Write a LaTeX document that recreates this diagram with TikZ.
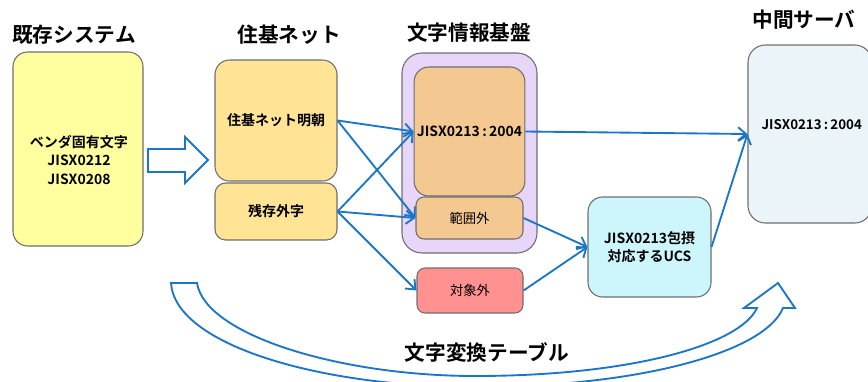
\documentclass[tikz,border=0pt]{standalone}
\usepackage{fontspec}
\setmainfont{Noto Sans CJK JP}[BoldFont=* Bold]
\usepackage{tikz}
\usetikzlibrary{arrows.meta,positioning}
\definecolor{flowblue}{RGB}{28,118,200}
\definecolor{boxgray}{RGB}{110,110,110}
\definecolor{oldyellow}{RGB}{255,255,160}
\definecolor{jukiyellow}{RGB}{255,228,150}
\definecolor{basepurple}{RGB}{232,214,250}
\definecolor{basetan}{RGB}{244,200,145}
\definecolor{outred}{RGB}{255,145,145}
\definecolor{ucscyan}{RGB}{204,245,252}
\definecolor{serverblue}{RGB}{235,244,248}

\begin{document}
\begin{tikzpicture}[
  x=0.75pt,y=-0.75pt,
  box/.style={draw=boxgray,line width=0.8pt,rounded corners=11pt,align=center,inner sep=2pt,
    font=\bfseries\fontsize{10.5}{14}\selectfont},
  smallbox/.style={box,rounded corners=6pt,font=\fontsize{10}{12}\selectfont},
  title/.style={font=\bfseries\fontsize{15.5}{18}\selectfont},
  flow/.style={-{Straight Barb[length=6pt,width=10pt]},draw=flowblue,line width=1.4pt},
  hollow/.style={draw=flowblue,line width=1.4pt,fill=white,line join=miter}
]
\useasboundingbox (0,0) rectangle (868,382);
\clip (0,0) rectangle (868,382);

% column titles
\node[title] (t1) at (74,35) {既存システム};
\node[title] (t2) at (289,35) {住基ネット};
\node[title] (t3) at (469,33) {文字情報基盤};
\node[title] (t4) at (804,20) {中間サーバ};

% existing system
\node[box,fill=oldyellow,minimum width=97.5pt,minimum height=145.5pt] (kizon) at (78,149) {};
\node[font=\bfseries\fontsize{10.5}{14}\selectfont,align=center] (kizontxt) at (79,160)
  {ベンダ固有文字\\JISX0212\\JISX0208};

% juki net
\node[box,fill=jukiyellow,minimum width=91.5pt,minimum height=90.75pt] (meicho) at (276,120.5) {住基ネット明朝};
\node[box,fill=jukiyellow,rounded corners=8pt,minimum width=91.5pt,minimum height=42.75pt] (zanzon) at (276,211.5) {残存外字};

% character information base
\node[box,fill=basepurple,rounded corners=15pt,minimum width=101.25pt,minimum height=150pt] (base) at (469.5,153) {};
\node[box,fill=basetan,minimum width=80.25pt,minimum height=96.75pt] (jis) at (469.5,131.5) {JISX0213\,:\,2004};
\node[smallbox,fill=basetan,minimum width=80.25pt,minimum height=31.5pt] (hani) at (469.5,218) {範囲外};
\node[smallbox,fill=outred,minimum width=79.5pt,minimum height=33.75pt] (taisho) at (470,290.5) {対象外};

% UCS
\node[box,fill=ucscyan,minimum width=92.25pt,minimum height=75pt] (ucs) at (649.5,247) {JISX0213包摂\\対応するUCS};

% intermediate server
\node[box,fill=serverblue,rounded corners=13pt,minimum width=93pt,minimum height=133.5pt] (server) at (810,134) {};
\node[anchor=west,inner sep=1pt,font=\bfseries\fontsize{10}{12}\selectfont] (servertxt) at (760,125) {JISX0213\,:\,2004};

% hollow arrow
\draw[hollow] (148,149) -- (185,149) -- (185,137) -- (208,160) -- (185,183) -- (185,172) -- (148,172) -- cycle;

% flows
\draw[flow] (meicho.east) -- (jis.west);
\draw[flow] (meicho.east) -- (hani.west);
\draw[flow] (zanzon.east) -- (jis.west);
\draw[flow] (zanzon.east) -- (hani.west);
\draw[flow] (zanzon.east) -- (taisho.west);
\draw[flow] (jis.east) -- (server.west);
\draw[flow] (hani.east) -- (ucs.west);
\draw[flow] (taisho.east) -- (ucs.west);
\draw[flow] (ucs.east) -- (server.west);

% curved conversion arrow
\draw[hollow] (171,283) -- (197,283)
  .. controls (205,335) and (340,376) .. (475,376)
  .. controls (630,376) and (740,345) .. (757,308)
  -- (744,308) -- (778,283) -- (795,308) -- (783,308)
  .. controls (765,352) and (640,387) .. (475,387)
  .. controls (320,387) and (175,345) .. (171,283) -- cycle;
\node[title] (table) at (487,352) {文字変換テーブル};
\end{tikzpicture}
\end{document}
